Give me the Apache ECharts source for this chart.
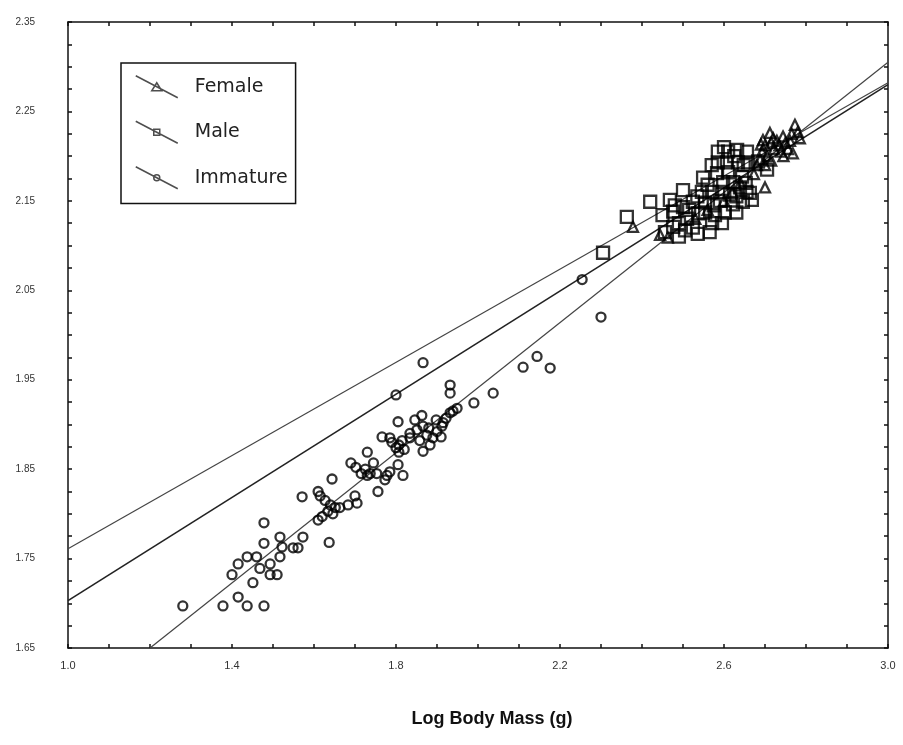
<!DOCTYPE html>
<html>
<head>
<meta charset="utf-8">
<title>Log Body Mass</title>
<script src="https://cdn.jsdelivr.net/npm/echarts@6/dist/echarts.min.js"></script>
<style>
	html, body { margin: 0; padding: 0; background: #fff; }
	#main { width: 903px; height: 745px; }
</style>
</head>
<body>
<div id="main"></div>
<script>
/* 数据：三组散点 [log body mass, y] */
var immature = [
	[1.28, 1.697], [1.378, 1.697], [1.415, 1.707], [1.437, 1.697], [1.478, 1.697],
	[1.451, 1.723], [1.40, 1.732], [1.415, 1.744], [1.437, 1.752], [1.46, 1.752],
	[1.468, 1.739], [1.493, 1.744], [1.493, 1.732], [1.51, 1.732], [1.478, 1.767],
	[1.478, 1.79], [1.517, 1.752], [1.517, 1.774], [1.522, 1.763], [1.549, 1.762],
	[1.561, 1.762], [1.573, 1.774], [1.571, 1.819], [1.61, 1.825], [1.61, 1.793],
	[1.62, 1.797], [1.644, 1.839], [1.615, 1.82], [1.627, 1.815], [1.64, 1.81],
	[1.652, 1.807], [1.634, 1.803], [1.646, 1.80], [1.663, 1.807], [1.683, 1.81],
	[1.70, 1.82], [1.705, 1.812], [1.637, 1.768], [1.69, 1.857], [1.702, 1.852],
	[1.715, 1.845], [1.73, 1.843], [1.737, 1.845], [1.745, 1.857], [1.753, 1.845],
	[1.725, 1.85], [1.73, 1.869], [1.778, 1.843], [1.785, 1.847], [1.773, 1.838],
	[1.756, 1.825], [1.766, 1.886], [1.785, 1.885], [1.805, 1.855], [1.817, 1.843],
	[1.79, 1.88], [1.80, 1.874], [1.807, 1.877], [1.815, 1.882], [1.82, 1.872],
	[1.807, 1.869], [1.834, 1.885], [1.805, 1.903], [1.834, 1.89], [1.846, 1.905],
	[1.863, 1.91], [1.851, 1.894], [1.866, 1.898], [1.875, 1.888], [1.858, 1.882],
	[1.866, 1.87], [1.883, 1.877], [1.89, 1.885], [1.88, 1.896], [1.898, 1.905],
	[1.9, 1.892], [1.91, 1.886], [1.912, 1.898], [1.922, 1.907], [1.932, 1.913],
	[1.939, 1.915], [1.949, 1.918], [1.915, 1.902], [1.932, 1.944], [1.932, 1.935],
	[1.80, 1.933], [1.866, 1.969], [1.99, 1.924], [2.037, 1.935], [2.11, 1.964],
	[2.144, 1.976], [2.176, 1.963], [2.30, 2.02], [2.254, 2.062]
];
var male = [
	[2.305, 2.092], [2.363, 2.132], [2.42, 2.149], [2.45, 2.134], [2.476, 2.138],
	[2.468, 2.151], [2.50, 2.162], [2.476, 2.121], [2.456, 2.115], [2.524, 2.12],
	[2.50, 2.143], [2.524, 2.149], [2.554, 2.148], [2.549, 2.176], [2.546, 2.16],
	[2.571, 2.16], [2.554, 2.137], [2.578, 2.134], [2.602, 2.137], [2.571, 2.125],
	[2.595, 2.125], [2.585, 2.205], [2.585, 2.193], [2.583, 2.181], [2.61, 2.205],
	[2.632, 2.207], [2.656, 2.205], [2.607, 2.193], [2.634, 2.193], [2.659, 2.193],
	[2.598, 2.171], [2.622, 2.171], [2.644, 2.177], [2.595, 2.16], [2.615, 2.157],
	[2.639, 2.165], [2.663, 2.159], [2.622, 2.146], [2.646, 2.149], [2.668, 2.151],
	[2.683, 2.194], [2.705, 2.185], [2.49, 2.11], [2.536, 2.113], [2.51, 2.13],
	[2.63, 2.137], [2.49, 2.125], [2.515, 2.14], [2.535, 2.155], [2.56, 2.168],
	[2.575, 2.145], [2.59, 2.15], [2.61, 2.182], [2.625, 2.2], [2.648, 2.19],
	[2.653, 2.17], [2.60, 2.21], [2.57, 2.19], [2.537, 2.136], [2.565, 2.115],
	[2.505, 2.117], [2.48, 2.145], [2.63, 2.155], [2.655, 2.16]
];
var female = [
	[2.378, 2.121], [2.444, 2.112], [2.463, 2.109], [2.70, 2.165], [2.695, 2.218],
	[2.712, 2.226], [2.729, 2.217], [2.744, 2.222], [2.761, 2.217], [2.78, 2.227],
	[2.768, 2.203], [2.756, 2.208], [2.722, 2.208], [2.739, 2.205], [2.773, 2.235],
	[2.693, 2.205], [2.705, 2.2], [2.688, 2.196], [2.673, 2.18], [2.68, 2.19],
	[2.56, 2.14], [2.60, 2.15], [2.64, 2.17], [2.53, 2.13], [2.62, 2.16],
	[2.70, 2.212], [2.715, 2.215], [2.735, 2.212], [2.75, 2.215], [2.765, 2.225],
	[2.785, 2.22], [2.72, 2.22], [2.70, 2.19], [2.715, 2.195], [2.69, 2.213],
	[2.745, 2.20]
];

/* 回归线端点 */
var femaleFit = [[1.0, 1.761], [3.0, 2.282]];
var maleFit = [[1.0, 1.703], [3.0, 2.28]];
var immatureFit = [[1.2, 1.65], [3.0, 2.305]];

var xTicks = [1.0, 3.0, 0.1];
var yTicks = [1.65, 2.35, 0.025];

var myChart = echarts.init(document.getElementById('main'));

var font = 'Liberation Sans, Arial, sans-serif';

function xLabel(v) {
	return Math.round((v - 1) / 0.1) % 4 === 0 ? v.toFixed(1) : '';
}
function yLabel(v) {
	return Math.round((v - 1.65) / 0.025) % 4 === 0 ? v.toFixed(2) : '';
}

var axisLine = { lineStyle: { color: '#111', width: 1.5 } };
var tick = { inside: true, length: 4, lineStyle: { color: '#111', width: 1.5 } };

function scatter(name, symbol, size, data) {
	return {
		name: name,
		type: 'scatter',
		symbol: symbol,
		symbolSize: size,
		data: data,
		itemStyle: { color: 'transparent', borderColor: '#000', borderWidth: 2.3 },
		z: 3
	};
}
function fit(name, data, w, c) {
	return {
		name: name,
		type: 'line',
		data: data,
		symbol: 'none',
		silent: true,
		lineStyle: { color: c, width: w },
		z: 2
	};
}

var option = {
	animation: false,
	backgroundColor: '#fff',
	grid: { left: 68, right: 15, top: 22, bottom: 97 },
	legend: {
		data: [
			{ name: 'Female', icon: 'path://M0,0L42,22M21,7L26,15L16,15Z' },
			{ name: 'Male', icon: 'path://M0,0L42,22M18,8L24,8L24,14L18,14Z' },
			{ name: 'Immature', icon: 'path://M0,0L42,22M18,11a3,3 0 1,0 6,0a3,3 0 1,0 -6,0Z' }
		],
		orient: 'vertical',
		left: 121,
		top: 63,
		padding: [12, 8, 14, 14],
		itemGap: 22,
		itemWidth: 42,
		itemHeight: 22,
		borderColor: '#111',
		borderWidth: 1.5,
		backgroundColor: '#fff',
		itemStyle: { color: 'transparent', borderColor: '#222', borderWidth: 1.5 },
		textStyle: { color: '#222', fontSize: 19, fontFamily: 'DejaVu Sans, sans-serif', padding: [0, 0, 0, 12] }
	},
	xAxis: [{
		type: 'value',
		min: xTicks[0], max: xTicks[1], interval: xTicks[2],
		name: 'Log Body Mass (g)',
		nameLocation: 'middle',
		nameGap: 62,
		nameTextStyle: { color: '#111', fontSize: 18, fontWeight: 'bold', fontFamily: font, padding: [0, 0, 0, 28] },
		axisLine: axisLine,
		axisTick: tick,
		splitLine: { show: false },
		axisLabel: { formatter: xLabel, margin: 12, fontSize: 11, color: '#333', fontFamily: font }
	}, {
		type: 'value', position: 'top',
		min: xTicks[0], max: xTicks[1], interval: xTicks[2],
		axisLine: axisLine, axisTick: tick,
		splitLine: { show: false }, axisLabel: { show: false }
	}],
	yAxis: [{
		type: 'value',
		min: yTicks[0], max: yTicks[1], interval: yTicks[2],
		axisLine: axisLine,
		axisTick: tick,
		splitLine: { show: false },
		axisLabel: { formatter: yLabel, margin: 33, fontSize: 10, color: '#333', fontFamily: font }
	}, {
		type: 'value', position: 'right',
		min: yTicks[0], max: yTicks[1], interval: yTicks[2],
		axisLine: axisLine, axisTick: tick,
		splitLine: { show: false }, axisLabel: { show: false }
	}],
	series: [
		fit('Female fit', femaleFit, 1.2, '#444'),
		fit('Male fit', maleFit, 1.6, '#222'),
		fit('Immature fit', immatureFit, 1.2, '#444'),
		scatter('Immature', 'circle', 9, immature),
		scatter('Male', 'rect', 12, male),
		scatter('Female', 'triangle', 10, female)
	]
};

myChart.setOption(option);
</script>
</body>
</html>
